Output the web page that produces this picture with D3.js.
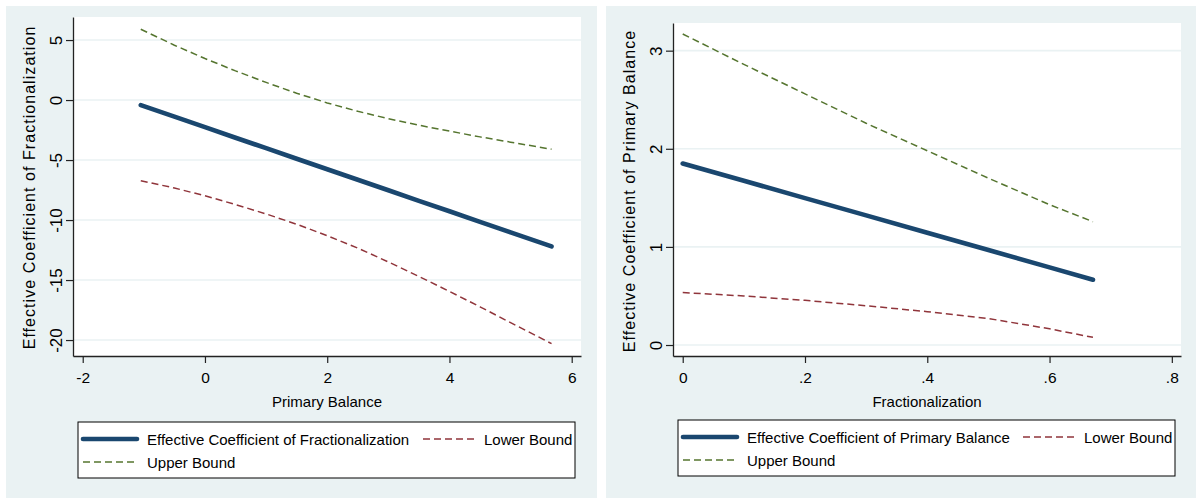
<!DOCTYPE html>
<html>
<head>
<meta charset="utf-8">
<script src="https://cdn.jsdelivr.net/npm/d3@7"></script>
<style>
    body { margin: 0; background: #fff; }
    svg { display: block; font-family: "Liberation Sans", Arial, sans-serif; }
</style>
</head>
<body>
<svg id="chart" width="1196" height="499"></svg>
<script>
// Left panel: effect of fractionalization along primary balance
const balanceX = [-1.05, -0.5, 0, 0.5, 1, 1.5, 2, 2.5, 3, 3.5, 4, 4.5, 5, 5.67];
const fracEffect = [-0.42, -1.38, -2.26, -3.14, -4.01, -4.89, -5.77, -6.64, -7.52, -8.40, -9.27, -10.15, -11.03, -12.2];
const fracLower = [-6.72, -7.33, -7.98, -8.71, -9.49, -10.35, -11.30, -12.34, -13.49, -14.70, -15.95, -17.23, -18.55, -20.3];
const fracUpper = [5.9, 4.57, 3.46, 2.43, 1.47, 0.57, -0.24, -0.94, -1.55, -2.10, -2.59, -3.07, -3.51, -4.1];
const balanceTicks = [-2, 0, 2, 4, 6];
const fracEffectTicks = [-20, -15, -10, -5, 0, 5];

// Right panel: effect of primary balance along fractionalization
const fracX = [0, 0.1, 0.2, 0.3, 0.4, 0.5, 0.6, 0.671];
const balanceEffect = [1.85, 1.674, 1.497, 1.321, 1.144, 0.968, 0.791, 0.665];
const balanceLower = [0.535, 0.50, 0.455, 0.40, 0.34, 0.27, 0.165, 0.078];
const balanceUpper = [3.17, 2.86, 2.56, 2.26, 1.98, 1.70, 1.43, 1.257];
const fracTicks = [0, 0.2, 0.4, 0.6, 0.8];
const balanceEffectTicks = [0, 1, 2, 3];

const navy = "#1a476f";
const maroon = "#90353b";
const green = "#55752f";
const bgColor = "#eaf2f3";
const fontSize = 15;

const svg = d3.select("#chart");

/**
 * Draw one Stata-like panel
 */
function drawPanel(p) {
    const g = svg.append("g");

    // outer background
    g.append("rect")
        .attr("x", p.bg[0]).attr("y", p.bg[1])
        .attr("width", p.bg[2] - p.bg[0]).attr("height", p.bg[3] - p.bg[1])
        .attr("fill", bgColor);

    const [left, top, right, bottom] = p.plot;
    g.append("rect")
        .attr("x", left).attr("y", top)
        .attr("width", right - left).attr("height", bottom - top)
        .attr("fill", "#fff");

    const x = d3.scaleLinear().domain(p.xDomain).range([left, right]);
    const y = d3.scaleLinear().domain(p.yDomain).range([bottom, top]);

    // gridlines
    g.append("g")
        .selectAll("line")
        .data(p.yTicks)
        .join("line")
            .attr("x1", left).attr("x2", right)
            .attr("y1", d => y(d)).attr("y2", d => y(d))
            .attr("stroke", bgColor)
            .attr("stroke-width", 1.6);

    // y axis
    const yAxis = g.append("g")
        .attr("transform", `translate(${left},0)`)
        .call(d3.axisLeft(y).tickValues(p.yTicks).tickFormat(p.yFmt)
            .tickSize(7).tickSizeOuter(0));
    yAxis.select(".domain").attr("stroke", "#222").attr("stroke-width", 1.3);
    yAxis.selectAll(".tick line").attr("stroke", "#222").attr("stroke-width", 1.2);
    yAxis.selectAll(".tick text")
        .attr("x", null).attr("dy", null)
        .attr("transform", "translate(-11,0) rotate(-90)")
        .attr("text-anchor", "middle")
        .attr("fill", "#000")
        .style("font-size", "17px")
        .style("font-family", "Liberation Sans, Arial, sans-serif");

    // x axis
    const xAxis = g.append("g")
        .attr("transform", `translate(0,${bottom})`)
        .call(d3.axisBottom(x).tickValues(p.xTicks).tickFormat(p.xFmt)
            .tickSize(7).tickSizeOuter(0));
    xAxis.select(".domain").attr("stroke", "#222").attr("stroke-width", 1.3);
    xAxis.selectAll(".tick line").attr("stroke", "#222").attr("stroke-width", 1.2);
    xAxis.selectAll(".tick text")
        .attr("y", 27).attr("dy", null)
        .attr("fill", "#000")
        .style("font-size", "15.5px")
        .style("font-family", "Liberation Sans, Arial, sans-serif");

    // axis titles
    g.append("text")
        .attr("transform", `translate(${left - 38},${p.yTitleMid}) rotate(-90)`)
        .attr("text-anchor", "middle")
        .style("font-size", "16px")
        .style("letter-spacing", "1.05px")
        .text(p.yTitle);
    g.append("text")
        .attr("x", (left + right) / 2)
        .attr("y", bottom + 51)
        .attr("text-anchor", "middle")
        .style("font-size", fontSize + "px")
        .text(p.xTitle);

    // series
    const line = (ys) => d3.line()
        .x((d, i) => x(p.xs[i]))
        .y(d => d)
        (ys.map(v => y(v)));

    g.append("path")
        .attr("d", line(p.upper))
        .attr("fill", "none").attr("stroke", green)
        .attr("stroke-width", 1.5).attr("stroke-dasharray", "7,4");
    g.append("path")
        .attr("d", line(p.lower))
        .attr("fill", "none").attr("stroke", maroon)
        .attr("stroke-width", 1.5).attr("stroke-dasharray", "7,4");
    g.append("path")
        .attr("d", line(p.mid))
        .attr("fill", "none").attr("stroke", navy)
        .attr("stroke-width", 4.6).attr("stroke-linecap", "round");

    // legend
    const [lx, ly] = p.legend;
    const lg = g.append("g").attr("transform", `translate(${lx},${ly})`);
    lg.append("rect")
        .attr("x", 0).attr("y", 0).attr("width", 497).attr("height", 56)
        .attr("fill", "#fff").attr("stroke", "#000").attr("stroke-width", 1);

    const items = [
        {label: p.midLabel, color: navy, width: 4.6, dash: null, x: 5, y: 17, tx: 69},
        {label: "Lower Bound", color: maroon, width: 1.5, dash: "7,4", x: 345, y: 17, tx: 406},
        {label: "Upper Bound", color: green, width: 1.5, dash: "7,4", x: 5, y: 40, tx: 69}
    ];
    items.forEach(it => {
        lg.append("line")
            .attr("x1", it.x).attr("x2", it.x + 54)
            .attr("y1", it.y).attr("y2", it.y)
            .attr("stroke", it.color)
            .attr("stroke-width", it.width)
            .attr("stroke-linecap", it.dash ? "butt" : "round")
            .attr("stroke-dasharray", it.dash);
        lg.append("text")
            .attr("x", it.tx)
            .attr("y", it.y + 5.5)
            .style("font-size", fontSize + "px")
            .text(it.label);
    });
}

drawPanel({
    bg: [6, 6, 597, 498],
    plot: [73, 17, 581, 356],
    xDomain: [-2.159, 6.152],
    yDomain: [-21.33, 6.92],
    xs: balanceX,
    mid: fracEffect,
    lower: fracLower,
    upper: fracUpper,
    xTicks: balanceTicks,
    yTicks: fracEffectTicks,
    xFmt: d => String(d),
    yFmt: d => String(d),
    xTitle: "Primary Balance",
    yTitle: "Effective Coefficient of Fractionalization",
    yTitleMid: 187.5,
    midLabel: "Effective Coefficient of Fractionalization",
    legend: [78, 422]
});

drawPanel({
    bg: [606, 6, 1196, 498],
    plot: [673, 23, 1181, 356],
    xDomain: [-0.0159, 0.815],
    yDomain: [-0.112, 3.282],
    xs: fracX,
    mid: balanceEffect,
    lower: balanceLower,
    upper: balanceUpper,
    xTicks: fracTicks,
    yTicks: balanceEffectTicks,
    xFmt: d => d === 0 ? "0" : String(d).replace("0.", "."),
    yFmt: d => String(d),
    xTitle: "Fractionalization",
    yTitle: "Effective Coefficient of Primary Balance",
    yTitleMid: 191,
    midLabel: "Effective Coefficient of Primary Balance",
    legend: [678, 420]
});
</script>
</body>
</html>
